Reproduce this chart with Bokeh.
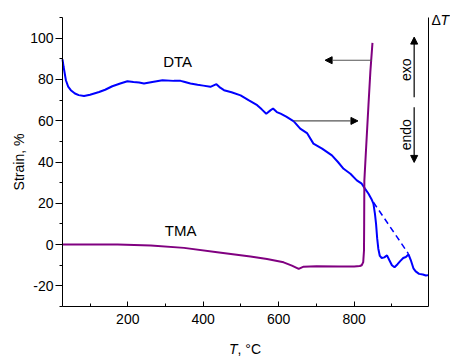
import math
from bokeh.plotting import figure
from bokeh.models import Range1d, LinearAxis, FixedTicker, Label, Arrow, NormalHead
from bokeh.embed import file_html
from bokeh.resources import INLINE

# ---- data ----
dta_t = [27, 30, 36, 42, 49, 60, 70, 84, 100, 124, 140, 159, 180, 199, 215, 230, 243, 265,
         292, 322, 340, 349, 366, 385, 400, 419, 435, 445, 455, 475, 499, 520, 543, 555,
         567, 578, 585, 595, 605, 620, 640, 657, 675, 692, 715, 741, 757, 772, 790, 807,
         820, 829, 838, 846, 851, 855, 858, 861, 864, 868, 873, 880, 887, 893, 900, 907,
         915, 922, 930, 937, 944, 950, 957, 963, 972, 982, 990, 997]
dta_v = [89.7, 86.0, 79.6, 76.5, 74.8, 73.2, 72.4, 72.0, 72.6, 73.9, 75.0, 76.7, 78.0, 79.1,
         78.7, 78.5, 78.0, 78.8, 79.6, 79.3, 79.3, 78.9, 78.0, 77.4, 77.0, 76.4, 77.7, 76.0,
         74.8, 73.8, 72.3, 70.0, 67.5, 65.5, 63.4, 65.0, 65.9, 64.2, 63.4, 62.0, 59.7, 56.2,
         54.0, 48.9, 46.5, 43.2, 40.0, 36.7, 34.3, 31.1, 29.5, 27.0, 24.6, 22.0, 19.8, 15.0,
         10.0, 3.0, -2.0, -5.5, -6.5, -6.2, -5.2, -7.5, -10.0, -11.0, -9.5, -8.0, -6.5, -6.0,
         -4.8, -7.5, -11.5, -13.0, -14.2, -14.5, -15.0, -14.8]

tma_t = [27, 100, 173, 261, 349, 437, 525, 569, 613, 635, 653, 666, 700, 760, 800, 815,
         820, 824, 826, 826.5, 827, 832, 838, 843, 848.5]
tma_v = [0.0, 0.0, 0.0, -0.5, -1.6, -3.7, -5.8, -7.0, -8.6, -10.2, -11.8, -10.7, -10.5,
         -10.6, -10.6, -10.4, -10.0, -8.5, -3.0, 10.0, 31.0, 48.0, 68.0, 84.0, 97.7]

base_t = [851, 944]
base_v = [20.5, -4.5]

x_major = [200, 400, 600, 800]
x_minor = [100, 300, 500, 700, 900]
y_major = [-20, 0, 20, 40, 60, 80, 100]
y_minor = [-30, -10, 10, 30, 50, 70, 90, 110]

X0, X1 = 27, 997      # axis extents
Y0, Y1 = -30, 110

FONT = "Liberation Sans"
W, H = 450, 356                   # canvas = frame
BOX_L, BOX_R, BOX_T, BOX_B = 62, 428, 17, 306   # where the axes box sits (px)

kx = (BOX_R - BOX_L) / (X1 - X0)
ky = (BOX_B - BOX_T) / (Y1 - Y0)
xr = Range1d(X0 - BOX_L / kx, X1 + (W - BOX_R) / kx)
yr = Range1d(Y0 - (H - BOX_B) / ky, Y1 + BOX_T / ky)

def dx(px):
    return xr.start + px / kx

def dy(py):
    return yr.end - py / ky

p = figure(frame_width=W, frame_height=H, x_range=xr, y_range=yr,
           output_backend="svg", toolbar_location=None,
           x_axis_location=None, y_axis_location=None,
           min_border=0)
p.outline_line_color = None
p.background_fill_color = "white"
p.border_fill_color = "white"
p.grid.grid_line_color = None
p.grid.visible = False

xa = LinearAxis(fixed_location=Y0, bounds=(X0, X1),
                ticker=FixedTicker(ticks=x_major, minor_ticks=x_minor))
xa.major_tick_in = 5
xa.major_tick_out = 0
xa.minor_tick_in = 3
xa.minor_tick_out = 0
xa.major_label_standoff = 7
xa.major_label_text_font = FONT
xa.major_label_text_font_size = "14px"
xa.major_label_text_color = "black"
xa.axis_line_color = "black"
xa.major_tick_line_color = "black"
xa.minor_tick_line_color = "black"
p.add_layout(xa, "below")

ya = LinearAxis(fixed_location=X0, bounds=(Y0, Y1),
                ticker=FixedTicker(ticks=y_major, minor_ticks=y_minor))
ya.major_label_overrides = {v: str(v) for v in y_major}
ya.major_tick_in = 0
ya.major_tick_out = 7
ya.minor_tick_in = 0
ya.minor_tick_out = 3
ya.major_label_standoff = 2
ya.major_label_text_font = FONT
ya.major_label_text_font_size = "14px"
ya.major_label_text_color = "black"
ya.axis_line_color = "black"
ya.major_tick_line_color = "black"
ya.minor_tick_line_color = "black"
ya.axis_label = "Strain, %"
ya.axis_label_text_font = FONT
ya.axis_label_text_font_size = "14px"
ya.axis_label_text_font_style = "normal"
ya.axis_label_text_color = "black"
ya.axis_label_standoff = 0
p.add_layout(ya, "left")

ra = LinearAxis(fixed_location=X1, bounds=(Y0, Y1),
                ticker=FixedTicker(ticks=[]), major_tick_out=0, major_tick_in=0,
                minor_tick_out=0, minor_tick_in=0, axis_line_color="black",
                major_label_text_font_size="0px")
p.add_layout(ra, "right")

# curves
p.line(dta_t, dta_v, line_color="#0000FF", line_width=2)
p.line(base_t, base_v, line_color="#0000FF", line_width=1.5, line_dash="6 4")
p.line(tma_t, tma_v, line_color="#800080", line_width=2)

# arrows
def arrow(x0, y0, x1, y1, color):
    p.add_layout(Arrow(end=NormalHead(size=7, fill_color="black", line_color="black"),
                       x_start=x0, y_start=y0, x_end=x1, y_end=y1,
                       line_color=color, line_width=1.2))

arrow(847, 89.3, 723, 89.3, "#555555")
arrow(640, 59.9, 810, 59.9, "#555555")
arrow(959, 71.4, 959, 100.5, "black")
arrow(959, 66.5, 959, 39.8, "black")

def label(x, y, text, **kw):
    opts = dict(text_font=FONT, text_font_size="14px", text_color="black",
                text_align="center", text_baseline="middle")
    opts.update(kw)
    p.add_layout(Label(x=x, y=y, text=text, **opts))

label(332, 88.8, "DTA", text_font_size="15px")
label(340, 6.6, "TMA", text_font_size="15px")
label(937, 84.7, "exo", angle=math.pi / 2)
label(937, 53.2, "endo", angle=math.pi / 2)

# x axis title "T, °C" with italic T
label(dx(237), dy(348), "T", text_font_style="italic", text_align="right")
label(dx(237), dy(348), ", °C", text_align="left")
# ΔT at the right axis
label(dx(431), dy(19), "Δ", text_align="left", text_font_size="14px")
label(dx(440), dy(19), "T", text_align="left", text_font_style="italic",
      text_font_size="14px")

open("out.html", "w").write(file_html(p, INLINE))
